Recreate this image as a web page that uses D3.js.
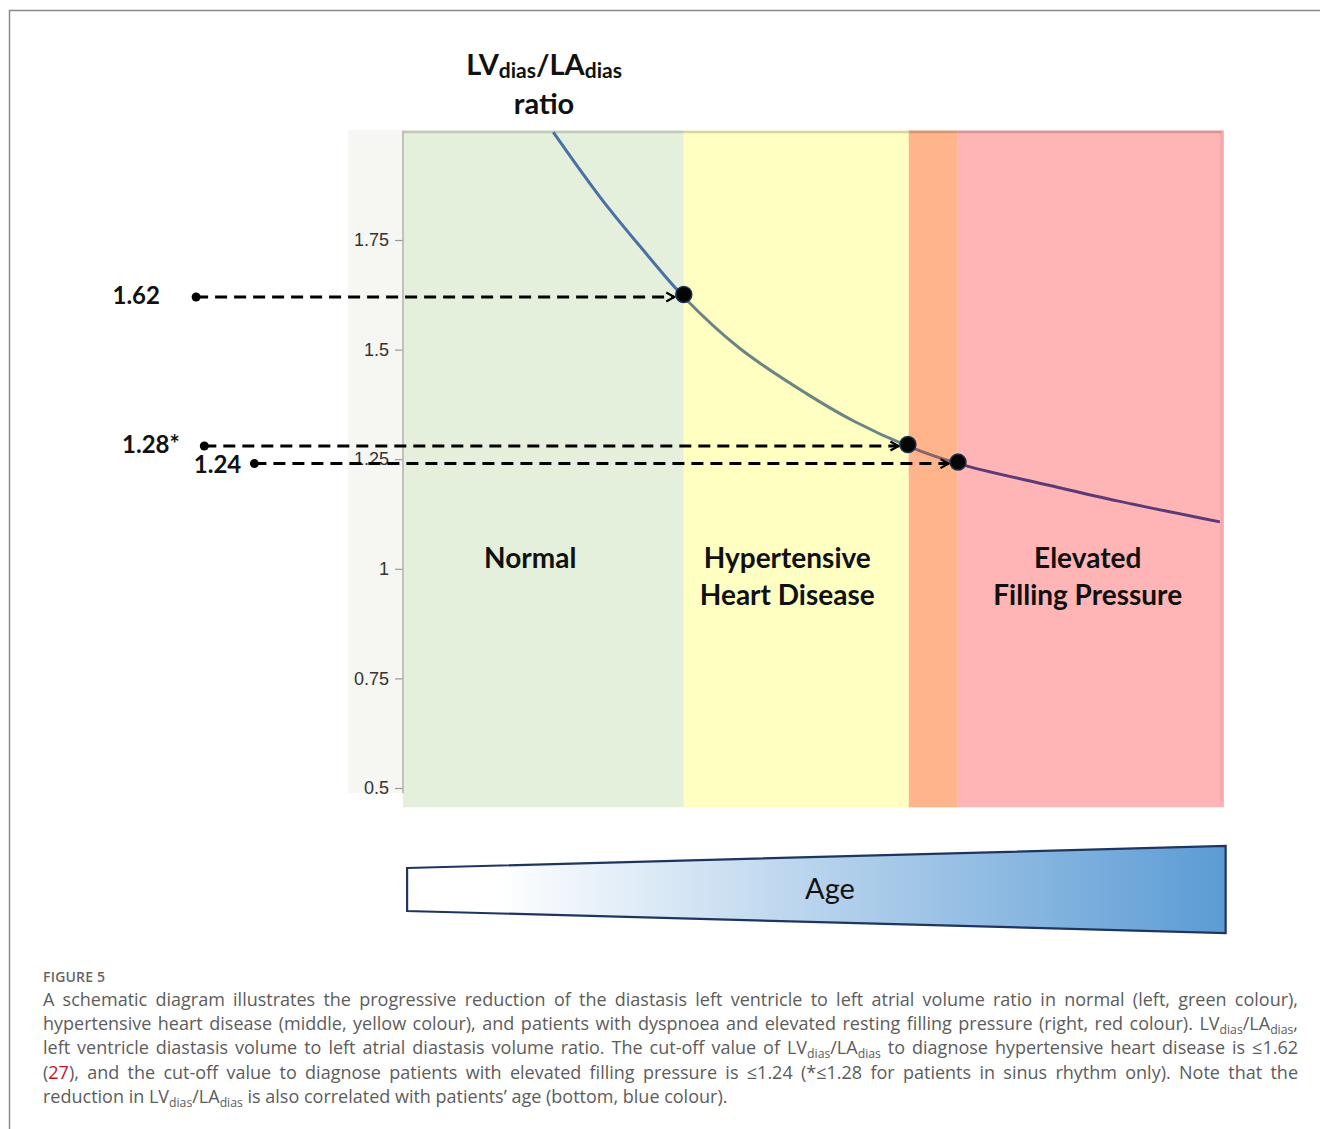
<!DOCTYPE html>
<html>
<head>
<meta charset="utf-8">
<script src="https://cdn.jsdelivr.net/npm/d3@7"></script>
<style>
  html, body { margin: 0; padding: 0; background: #fff; }
  body { width: 1320px; height: 1129px; position: relative; overflow: hidden; }
  svg { position: absolute; left: 0; top: 0; }
  .cap { position: absolute; left: 43px; width: 1255px; font-family: "Open Sans", "Noto Sans", sans-serif; color: #5c5c5c; }
  .figlab { top: 967px; font-size: 14px; font-weight: 600; letter-spacing: 0.2px; color: #666; }
  .capbody { top: 987px; font-size: 18px; line-height: 24.2px; }
  .capbody div { white-space: nowrap; text-align: justify; text-align-last: justify; }
  .capbody div.last { text-align-last: left; }
  .capbody sub { font-size: 0.68em; vertical-align: -0.3em; line-height: 0; }
  .ref { color: #c8102e; }
</style>
</head>
<body>
<svg id="chart" width="1320" height="1129"></svg>
<div class="cap figlab">FIGURE 5</div>
<div class="cap capbody">
  <div>A schematic diagram illustrates the progressive reduction of the diastasis left ventricle to left atrial volume ratio in normal (left, green colour),</div>
  <div>hypertensive heart disease (middle, yellow colour), and patients with dyspnoea and elevated resting filling pressure (right, red colour). LV<sub>dias</sub>/LA<sub>dias</sub>,</div>
  <div>left ventricle diastasis volume to left atrial diastasis volume ratio. The cut-off value of LV<sub>dias</sub>/LA<sub>dias</sub> to diagnose hypertensive heart disease is ≤1.62</div>
  <div>(<span class="ref">27</span>), and the cut-off value to diagnose patients with elevated filling pressure is ≤1.24 (*≤1.28 for patients in sinus rhythm only). Note that the</div>
  <div class="last">reduction in LV<sub>dias</sub>/LA<sub>dias</sub> is also correlated with patients’ age (bottom, blue colour).</div>
</div>
<script>
// ---------------- data ----------------
const bandNames  = ["Normal", "Hypertensive Heart Disease", "Transition", "Elevated Filling Pressure"];
const bandStart  = [0, 34.2, 61.6, 67.5];
const bandEnd    = [34.2, 61.6, 67.5, 100];
const bandLabelLines = [["Normal"], ["Hypertensive", "Heart Disease"], [], ["Elevated", "Filling Pressure"]];
const bandLabelX = [15.5, 46.8, 64.5, 83.4];

// schematic curve (x = relative age position 0..100, y = LVdias/LAdias ratio)
const curveX = [18.3, 24.0, 28.9, 34.2, 41.0, 49.2, 55.0, 61.5, 67.6, 78.8, 87.0, 99.5];
const curveY = [1.996, 1.848, 1.735, 1.62, 1.503, 1.399, 1.336, 1.28, 1.24, 1.19, 1.155, 1.107];

// cut-off values
const cutLabels = ["1.62", "1.28*", "1.24"];
const cutValues = [1.62, 1.28, 1.24];
const cutX      = [34.2, 61.5, 67.6];
const cutStartX = [-25.2, -24.2, -18.1];
const cutLabelX = [-29.6, -27.2, -19.7];

const yTicks = [0.5, 0.75, 1, 1.25, 1.5, 1.75];

// ---------------- layout ----------------
const svg = d3.select("#chart");
const x = d3.scaleLinear().domain([0, 100]).range([403, 1224]);
const y = d3.scaleLinear().domain([0.5, 1.75]).range([788, 240]);
const yTop = y(2.0), yBottom = y(0.456);
const boldFont = "Lato, 'Open Sans', sans-serif";

// frame
svg.append("path").attr("d", "M9.5,1129 L9.5,10.5 L1320,10.5")
  .attr("fill", "none").attr("stroke", "#8a8a8a").attr("stroke-width", 1.5);

// axis background strip
svg.append("rect").attr("x", x(-6.7)).attr("y", yTop).attr("width", x(0) - x(-6.7)).attr("height", y(0.488) - yTop)
  .attr("fill", "#f6f6f2");

// bands
const bandColors = ["#e4f0dc", "#ffffc2", "#ffb48c", "#ffb4b6"];
svg.append("g").selectAll("rect").data(bandNames).join("rect")
  .attr("x", (d, i) => x(bandStart[i]))
  .attr("y", yTop)
  .attr("width", (d, i) => x(bandEnd[i]) - x(bandStart[i]))
  .attr("height", yBottom - yTop)
  .attr("fill", (d, i) => bandColors[i]);

// top edge and right edge tint
svg.append("line").attr("x1", x(0)).attr("x2", x(99.7)).attr("y1", yTop + 1.5).attr("y2", yTop + 1.5)
  .attr("stroke", "#000").attr("stroke-opacity", 0.16).attr("stroke-width", 2.5);
svg.append("line").attr("x1", x(99.7)).attr("x2", x(99.7)).attr("y1", yTop).attr("y2", yBottom - 6)
  .attr("stroke", "#c06070").attr("stroke-opacity", 0.15).attr("stroke-width", 2.5);

// y axis
const axis = svg.append("g").attr("transform", `translate(${x(0)},0)`)
  .call(d3.axisLeft(y).tickValues(yTicks).tickSize(8).tickPadding(6).tickFormat(d => String(d)));
axis.select(".domain").remove();
axis.selectAll(".tick line").attr("stroke", "#9a9a9a").attr("stroke-width", 1.2);
axis.selectAll(".tick text").attr("fill", "#333").style("font-family", "'Liberation Sans', Arial, sans-serif").style("font-size", "18px");
svg.append("line").attr("x1", x(0)).attr("x2", x(0)).attr("y1", yTop).attr("y2", y(0.488))
  .attr("stroke", "#b0b0b0").attr("stroke-width", 1.5);

// band labels
const labG = svg.append("g").style("font-family", boldFont).style("font-weight", 700)
  .style("font-size", "28px").attr("fill", "#111").attr("text-anchor", "middle");
bandLabelLines.forEach((lines, i) => {
  lines.forEach((t, j) => {
    labG.append("text").attr("x", x(bandLabelX[i])).attr("y", y(1.0) - 0.5 + j * 37).text(t);
  });
});

// curve with colour changes
const defs = svg.append("defs");
const grad = defs.append("linearGradient").attr("id", "curveGrad").attr("gradientUnits", "userSpaceOnUse")
  .attr("x1", x(0)).attr("x2", x(100)).attr("y1", 0).attr("y2", 0);
const curveCols = ["#4a70a6", "#6a8684", "#8a6468", "#5c3a78"];
bandStart.forEach((s, i) => {
  grad.append("stop").attr("offset", s / 100).attr("stop-color", curveCols[i]);
  grad.append("stop").attr("offset", bandEnd[i] / 100).attr("stop-color", curveCols[i]);
});
defs.append("clipPath").attr("id", "plotClip").append("rect")
  .attr("x", x(0)).attr("y", yTop).attr("width", x(100) - x(0)).attr("height", yBottom - yTop);

const line = d3.line().x(d => x(d[0])).y(d => y(d[1])).curve(d3.curveCatmullRom.alpha(0.5));
svg.append("path").datum(curveX.map((v, i) => [v, curveY[i]]))
  .attr("d", line).attr("fill", "none").attr("stroke", "url(#curveGrad)").attr("stroke-width", 3)
  .attr("clip-path", "url(#plotClip)");

// arrow marker
defs.append("marker").attr("id", "chev").attr("viewBox", "-10 -6 12 12").attr("refX", 0).attr("refY", 0)
  .attr("markerUnits", "userSpaceOnUse").attr("markerWidth", 12).attr("markerHeight", 12).attr("orient", "auto")
  .append("path").attr("d", "M-8,-4.5 L0,0 L-8,4.5").attr("fill", "none").attr("stroke", "#000").attr("stroke-width", 2.2);

// dashed arrows
const dotR = 8;
svg.append("g").selectAll("line").data(cutLabels).join("line")
  .attr("x1", (d, i) => x(cutStartX[i]))
  .attr("x2", (d, i) => x(cutX[i]) - dotR - 1.5)
  .attr("y1", (d, i) => y(cutValues[i]))
  .attr("y2", (d, i) => y(cutValues[i]))
  .attr("stroke", "#000").attr("stroke-width", 3).attr("stroke-dasharray", "12,7")
  .attr("marker-end", "url(#chev)");

// small start dots
svg.append("g").selectAll("circle").data(cutLabels).join("circle")
  .attr("cx", (d, i) => x(cutStartX[i])).attr("cy", (d, i) => y(cutValues[i])).attr("r", 4.5).attr("fill", "#000");

// cut-off labels
svg.append("g").selectAll("text").data(cutLabels).join("text")
  .attr("x", (d, i) => x(cutLabelX[i]))
  .attr("y", (d, i) => y(cutValues[i]) + (i === 1 ? 7 : i === 2 ? 9 : 7))
  .attr("text-anchor", "end")
  .style("font-family", boldFont).style("font-weight", 700).style("font-size", "24px")
  .attr("fill", "#111").text(d => d);

// big dots on the curve
svg.append("g").selectAll("circle").data(cutLabels).join("circle")
  .attr("cx", (d, i) => x(cutX[i])).attr("cy", (d, i) => y(cutValues[i]) - (i === 0 ? 2.5 : 1.5))
  .attr("r", dotR).attr("fill", "#050505").attr("stroke", "#1e3050").attr("stroke-width", 1.5);

// title
const title = svg.append("text").attr("x", 544).attr("y", 75).attr("text-anchor", "middle")
  .style("font-family", boldFont).style("font-weight", 700).style("font-size", "29px").attr("fill", "#111");
title.append("tspan").text("LV");
title.append("tspan").attr("dy", 3).style("font-size", "21px").text("dias");
title.append("tspan").attr("dy", -3).text("/LA");
title.append("tspan").attr("dy", 3).style("font-size", "21px").text("dias");
svg.append("text").attr("x", 544).attr("y", 114).attr("text-anchor", "middle")
  .style("font-family", boldFont).style("font-weight", 700).style("font-size", "29px").attr("fill", "#111")
  .text("ratio");

// age wedge
const ageGrad = defs.append("linearGradient").attr("id", "ageGrad").attr("gradientUnits", "userSpaceOnUse")
  .attr("x1", x(0.5)).attr("x2", x(100.2)).attr("y1", 0).attr("y2", 0);
ageGrad.append("stop").attr("offset", 0).attr("stop-color", "#ffffff");
ageGrad.append("stop").attr("offset", 0.11).attr("stop-color", "#ffffff");
ageGrad.append("stop").attr("offset", 1).attr("stop-color", "#5b9bd5");
const wedge = [[x(0.5), 868], [x(100.2), 846], [x(100.2), 933], [x(0.5), 911]];
svg.append("path").attr("d", "M" + wedge.map(p => p.join(",")).join("L") + "Z")
  .attr("fill", "url(#ageGrad)").attr("stroke", "#1f3560").attr("stroke-width", 2.2).attr("stroke-linejoin", "miter");
svg.append("text").attr("x", 830).attr("y", 899).attr("text-anchor", "middle")
  .style("font-family", boldFont).style("font-size", "29px").attr("fill", "#111").text("Age");
</script>
</body>
</html>
